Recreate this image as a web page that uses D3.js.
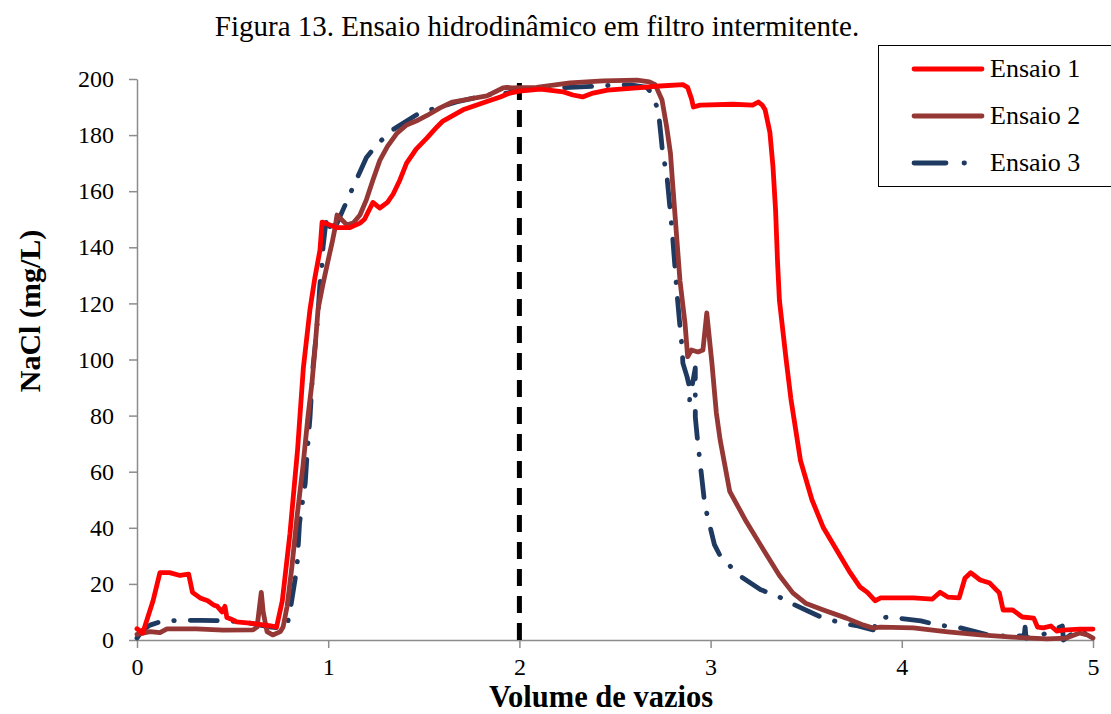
<!DOCTYPE html>
<html>
<head>
<meta charset="utf-8">
<script src="https://cdn.jsdelivr.net/npm/d3@7"></script>
<style>
  body { margin: 0; background: #fff; }
  text { font-family: "Liberation Serif", "Times New Roman", serif; }
</style>
</head>
<body>
<svg id="chart" width="1111" height="714"></svg>
<script>
// Ensaio 1 : [volume de vazios, NaCl mg/L]
var ensaio1 = [
  [0,4],[0.03,2.5],[0.084,14],[0.12,24],[0.17,24],[0.225,23],[0.27,23.5],[0.29,17],[0.33,15],[0.37,14],
  [0.4,12.5],[0.42,12],[0.445,10],[0.46,12],[0.47,8],[0.49,7.5],[0.52,6.5],[0.59,6],[0.65,5.5],[0.7,5],
  [0.73,4.6],[0.76,14],[0.8,38],[0.84,68],[0.87,97],[0.89,109],[0.905,118],[0.93,129],[0.957,139],
  [0.968,149],[1.046,147],[1.114,147],[1.166,148.6],[1.19,150],[1.234,156],[1.27,154],[1.31,156],
  [1.34,159],[1.375,164],[1.41,170],[1.46,175],[1.517,179],[1.57,183],[1.6,185],[1.705,189],[1.83,192],
  [1.9,193.6],[1.95,195],[2.0,195.7],[2.11,196.4],[2.23,195.4],[2.28,194.3],[2.33,193.6],[2.385,195],
  [2.46,196],[2.615,196.8],[2.735,197.5],[2.855,198],[2.88,197],[2.9,193],[2.91,190],[2.945,190.7],
  [3.117,191],[3.22,190.7],[3.25,191.8],[3.27,190.7],[3.285,189],[3.31,181],[3.326,169],[3.34,153],
  [3.35,135],[3.36,121],[3.38,109],[3.395,100],[3.42,86],[3.47,64],[3.53,50],[3.59,40],[3.66,32],
  [3.73,24],[3.78,19],[3.82,17],[3.86,14],[3.89,15],[4.06,15],[4.16,14.6],[4.2,17],[4.24,15.3],
  [4.3,15],[4.33,22],[4.36,24],[4.41,21.4],[4.46,20.3],[4.51,16.8],[4.53,10.7],[4.58,10.7],[4.63,8.2],
  [4.69,7.8],[4.71,4.6],[4.74,4.3],[4.78,5],[4.81,3.2],[4.84,3.5],[4.93,3.9],[5.0,3.9]
];

// Ensaio 2
var ensaio2 = [
  [0,2],[0.068,3],[0.12,2.6],[0.157,4],[0.31,4],[0.45,3.5],[0.607,3.6],[0.628,4.6],[0.65,17],[0.66,10],
  [0.68,3],[0.71,1.8],[0.75,3],[0.764,4.6],[0.785,12],[0.81,26],[0.837,44],[0.868,62],[0.894,79.5],
  [0.915,91.6],[0.93,103],[0.947,118],[0.973,127],[1.0,135.5],[1.02,141.5],[1.036,147],[1.046,151.5],
  [1.098,148],[1.13,148.6],[1.166,151.5],[1.2,157],[1.234,164],[1.27,171],[1.31,176],[1.36,180.7],
  [1.41,183.6],[1.46,185],[1.517,187],[1.585,189.7],[1.65,191.8],[1.83,194],[1.914,196.8],[1.935,197],
  [1.96,196.8],[2.09,197],[2.265,198.6],[2.437,199.3],[2.615,199.6],[2.68,199],[2.71,198],[2.746,192.5],
  [2.77,183],[2.79,173.6],[2.8,164],[2.84,128],[2.866,113],[2.88,101],[2.9,103.4],[2.934,102.7],
  [2.96,103.4],[2.98,116.6],[3.007,98.7],[3.03,81],[3.05,71.3],[3.1,53],[3.18,43],[3.26,34],[3.36,23],
  [3.43,16.8],[3.5,13],[3.59,10.7],[3.71,7.8],[3.8,5.3],[3.85,4.3],[3.89,4.6],[4.06,4.3],[4.24,2.9],
  [4.41,1.8],[4.58,1],[4.76,0.4],[4.86,0.7],[4.93,2.5],[4.97,1.8],[5.0,0.7]
];

// Ensaio 3
var ensaio3 = [
  [0,0.7],[0.03,3.5],[0.068,5.3],[0.136,6.8],[0.225,7],[0.33,7],[0.486,6.8],[0.59,6],[0.7,4.6],[0.75,4.3],
  [0.785,5.3],[0.8,10],[0.816,17],[0.837,26],[0.85,41.7],[0.88,56],[0.89,66.7],[0.905,79.5],[0.92,97],
  [0.94,110.5],[0.947,117],[0.957,127],[0.968,134],[0.973,140],[0.983,146],[0.994,151],[1.01,147],
  [1.02,150],[1.036,147],[1.088,155],[1.13,161.5],[1.2,172],[1.26,177],[1.34,182],[1.48,188],
  [1.585,190],[1.67,191.8],[1.83,194.3],[1.935,195],[2.0,196],[2.09,196.8],[2.175,196.8],[2.265,197],
  [2.406,197.5],[2.526,197.9],[2.58,197.9],[2.667,197],[2.69,195],[2.72,190],[2.73,186.5],[2.74,180],
  [2.75,173],[2.77,166.5],[2.8,145],[2.824,123.7],[2.84,111.6],[2.85,104.8],[2.855,98.7],[2.877,93.8],
  [2.89,90],[2.89,85.6],[2.92,97],[2.92,79.5],[2.93,72.4],[2.97,48],[3.02,34],[3.05,30],[3.15,23],
  [3.26,18],[3.36,15.3],[3.44,12.5],[3.52,10],[3.59,7.8],[3.69,6],[3.77,5],[3.85,3.6],[3.88,7.8],
  [3.93,8.2],[4.1,6.8],[4.19,5.3],[4.29,4.6],[4.45,1.8],[4.55,1.4],[4.64,1.5],[4.645,4.6],[4.65,0.7],
  [4.74,2],[4.84,5],[4.845,0],[4.92,3.6],[5.0,1]
];

var xTicks = [0, 1, 2, 3, 4, 5];
var yTicks = [0, 20, 40, 60, 80, 100, 120, 140, 160, 180, 200];
var seriesNames = ["Ensaio 1", "Ensaio 2", "Ensaio 3"];
var seriesColors = ["#ff0000", "#953735", "#1f3a60"];
var divisor = 2;

var svg = d3.select("#chart");
var x = d3.scaleLinear().domain([0, 5]).range([137, 1093]);
var y = d3.scaleLinear().domain([0, 200]).range([640, 79]);

// title
svg.append("text")
  .attr("x", 537).attr("y", 36)
  .attr("text-anchor", "middle")
  .attr("font-size", 29)
  .text("Figura 13. Ensaio hidrodinâmico em filtro intermitente.");

// axes
var yAxis = svg.append("g")
  .attr("transform", "translate(137,0)")
  .call(d3.axisLeft(y).tickValues(yTicks).tickSize(8).tickPadding(15).tickSizeOuter(0));
var xAxis = svg.append("g")
  .attr("transform", "translate(0,640)")
  .call(d3.axisBottom(x).tickValues(xTicks).tickFormat(d3.format("d")).tickSize(8).tickPadding(10).tickSizeOuter(0));

[xAxis, yAxis].forEach(function(a){
  a.selectAll("path, line").attr("stroke", "#8c8c8c").attr("stroke-width", 1.5);
  a.selectAll("text").attr("font-family", "Liberation Serif, serif")
    .attr("font-size", 24).attr("fill", "#000");
});

// axis titles
svg.append("text")
  .attr("x", 601).attr("y", 707)
  .attr("text-anchor", "middle")
  .attr("font-size", 30.5).attr("font-weight", "bold")
  .text("Volume de vazios");
svg.append("text")
  .attr("transform", "translate(40,311) rotate(-90)")
  .attr("text-anchor", "middle")
  .attr("font-size", 30).attr("font-weight", "bold")
  .text("NaCl (mg/L)");

// vertical divider
svg.append("line")
  .attr("x1", x(divisor)).attr("x2", x(divisor))
  .attr("y1", y(0)).attr("y2", y(200))
  .attr("stroke", "#000").attr("stroke-width", 5)
  .attr("stroke-dasharray", "17,10");

var line = d3.line().x(function(d){ return x(d[0]); }).y(function(d){ return y(d[1]); });

var all = [ensaio1, ensaio2, ensaio3];
var dashes = [null, null, "27,16,0.5,16"];

// draw Ensaio 3 first, then 2, then 1 on top
[2, 1, 0].forEach(function(i){
  svg.append("path")
    .datum(all[i])
    .attr("d", line)
    .attr("fill", "none")
    .attr("stroke", seriesColors[i])
    .attr("stroke-width", 4.8)
    .attr("stroke-linejoin", "round")
    .attr("stroke-linecap", "round")
    .attr("stroke-dasharray", dashes[i]);
});

// legend
var legend = svg.append("g");
legend.append("rect")
  .attr("x", 878.5).attr("y", 45.5).attr("width", 240).attr("height", 141)
  .attr("fill", "#fff").attr("stroke", "#000").attr("stroke-width", 1);
seriesNames.forEach(function(name, i){
  var ly = 69 + i * 47;
  legend.append("line")
    .attr("x1", 914).attr("x2", 982).attr("y1", ly).attr("y2", ly)
    .attr("stroke", seriesColors[i]).attr("stroke-width", 4.8)
    .attr("stroke-linecap", "round")
    .attr("stroke-dasharray", i == 2 ? "32,18,0.5,30" : null);
  legend.append("text")
    .attr("x", 990).attr("y", ly + 8)
    .attr("font-size", 26)
    .text(name);
});
</script>
</body>
</html>
